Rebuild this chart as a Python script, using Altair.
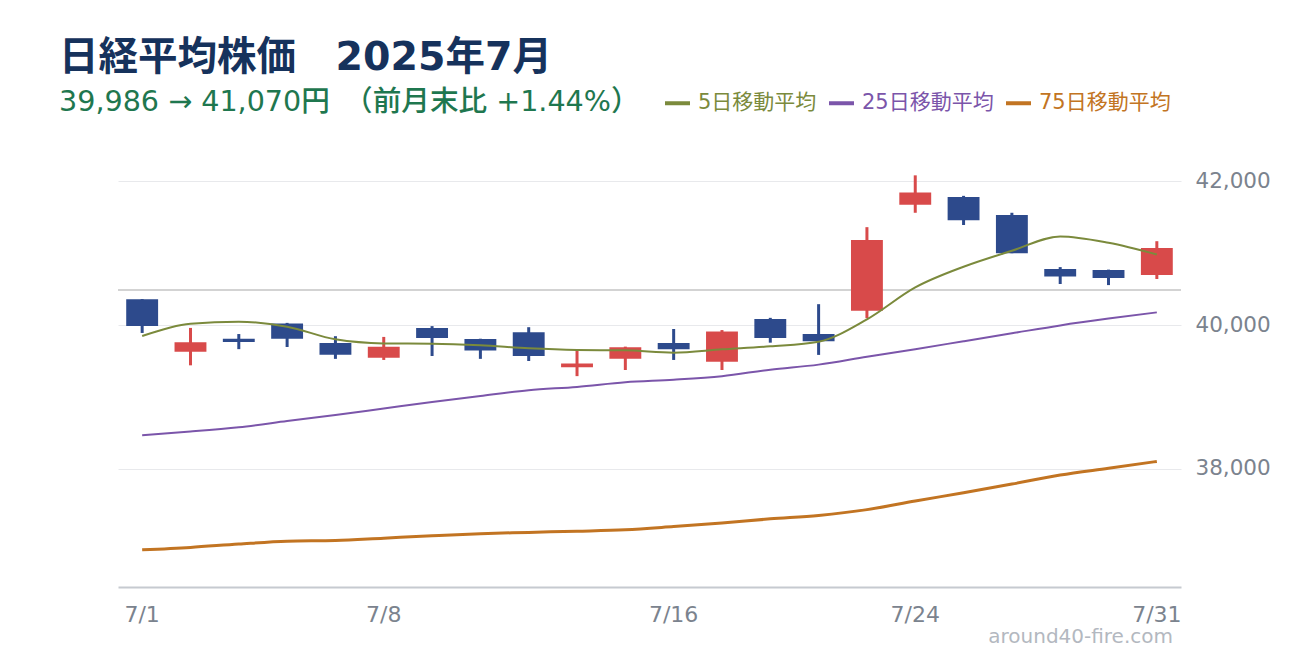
import altair as alt
import pandas as pd

# ---- data ----
dates = ["7/1", "7/2", "7/3", "7/4", "7/7", "7/8", "7/9", "7/10", "7/11", "7/14", "7/15",
         "7/16", "7/17", "7/18", "7/22", "7/23", "7/24", "7/25", "7/28", "7/29", "7/30", "7/31"]
opens = [40360, 39630, 39810, 40020, 39750, 39545, 39960, 39805, 39900, 39415, 39530,
         39750, 39490, 40085, 39875, 40200, 41670, 41780, 41530, 40780, 40765, 40695]
highs = [40360, 39960, 39875, 40030, 39845, 39835, 39985, 39810, 39970, 39640, 39700,
         39945, 39930, 40100, 40290, 41360, 42080, 41795, 41560, 40805, 40770, 41165]
lows = [39890, 39440, 39665, 39695, 39530, 39515, 39570, 39530, 39500, 39290, 39375,
        39515, 39375, 39755, 39585, 40095, 41560, 41390, 40998, 40570, 40555, 40640]
closes = [39986, 39762, 39765, 39810, 39587, 39700, 39821, 39646, 39569, 39465, 39690,
          39665, 39910, 39819, 39774, 41180, 41840, 41456, 40998, 40674, 40654, 41070]
ma5 = [39847, 40018, 40046, 39977, 39801, 39745, 39741, 39718, 39676, 39653, 39648,
       39616, 39662, 39704, 39769, 40079, 40523, 40810, 41032, 41232, 41144, 40981]
ma25 = [38470, 38520, 38580, 38665, 38750, 38840, 38930, 39015, 39095, 39140, 39205,
        39240, 39290, 39380, 39450, 39560, 39665, 39775, 39885, 39995, 40090, 40176]
ma75 = [36876, 36910, 36957, 36996, 37006, 37039, 37072, 37101, 37119, 37135, 37155,
        37200, 37250, 37307, 37355, 37435, 37555, 37670, 37790, 37915, 38010, 38105]

x_labels = ["7/1", "7/8", "7/16", "7/24", "7/31"]
y_ticks = [38000, 40000, 42000]
prev_close = [40487]
ma_names = ["5日移動平均", "25日移動平均", "75日移動平均"]
ma_colors = ["#7b8a3c", "#7b55aa", "#c27422"]

title_text = "日経平均株価　2025年7月"
subtitle_text = "39,986 → 41,070円　（前月末比 +1.44%）"
watermark = "around40-fire.com"

# ---- styles ----
FONT = "DejaVu Sans, 'Noto Sans CJK JP', sans-serif"
RED = "#d84a4a"
BLUE = "#2d4a8c"
NAVY = "#16325c"
GREEN = "#1f774f"
LABEL = "#7b838e"

df = pd.DataFrame({
    "i": list(range(len(dates))), "d": dates, "open": opens, "high": highs,
    "low": lows, "close": closes,
})

ma_rows = []
for name, series in zip(ma_names, [ma5, ma25, ma75]):
    for i, (d, v) in enumerate(zip(dates, series)):
        ma_rows.append({"i": i, "d": d, "s": name, "v": v})
ma_df = pd.DataFrame(ma_rows)

x_enc = alt.X("d:N", sort=dates, title=None,
              scale=alt.Scale(paddingInner=0, paddingOuter=0),
              axis=alt.Axis(values=x_labels, labelAngle=0, ticks=False, grid=False,
                            domainColor="#c6cad0", domainWidth=2,
                            labelColor=LABEL, labelFont=FONT, labelFontSize=22,
                            labelPadding=17))

y_scale = alt.Scale(domain=[36360, 42460], zero=False, nice=False)
y_axis = alt.Axis(orient="right", values=y_ticks, format=",", ticks=False, domain=False,
                  labelExpr="format(datum.value, ',')",
                  grid=True, gridColor="#e8e9ec", gridWidth=1,
                  labelColor=LABEL, labelFont=FONT, labelFontSize=21.5, labelPadding=14)


def Y(field):
    return alt.Y(field, title=None, scale=y_scale, axis=y_axis)


base = alt.Chart(df)
candle_color = alt.condition("datum.close >= datum.open", alt.value(RED), alt.value(BLUE))

ref = alt.Chart(pd.DataFrame({"p": prev_close})).mark_rule(
    color="#c4c4c4", strokeWidth=1.5
).encode(y=Y("p:Q"))

wick = base.mark_rule(strokeWidth=3).encode(
    x=x_enc, y=Y("low:Q"), y2="high:Q", color=candle_color
)
body = base.mark_bar(width=alt.RelativeBandSize(0.66)).encode(
    x=x_enc, y=Y("open:Q"), y2="close:Q", color=candle_color
)

legend = alt.Legend(
    orient="none", legendX=545, legendY=-59.5, direction="horizontal", title=None,
    symbolType="stroke", symbolSize=625, symbolStrokeWidth=4,
    labelFont=FONT, labelFontSize=21, labelOffset=6, columnPadding=4, padding=0,
    labelLimit=400,
    labelColor=alt.ExprRef(expr=(
        f"datum.label == '{ma_names[0]}' ? '{ma_colors[0]}' : "
        f"datum.label == '{ma_names[1]}' ? '{ma_colors[1]}' : '{ma_colors[2]}'"
    )),
)
color_enc = alt.Color("s:N", sort=ma_names,
                      scale=alt.Scale(domain=ma_names, range=ma_colors), legend=legend)


def ma_line(name, width):
    return alt.Chart(ma_df).transform_filter(
        alt.FieldEqualPredicate(field="s", equal=name)
    ).mark_line(strokeWidth=width, interpolate="monotone").encode(
        x=x_enc, y=Y("v:Q"), order=alt.Order("i:Q"), color=color_enc,
    )


l5 = ma_line(ma_names[0], 2)
l25 = ma_line(ma_names[1], 2)
l75 = ma_line(ma_names[2], 3)

mark = alt.Chart(pd.DataFrame({"t": [watermark]})).mark_text(
    align="right", baseline="middle", font=FONT, fontSize=20, color="#b3b8c0"
).encode(x=alt.value(1055), y=alt.value(489), text="t:N")

chart = alt.layer(ref, wick, body, l5, l25, l75, mark).properties(
    width=1063, height=439,
    title=alt.Title(
        text=title_text, subtitle=subtitle_text, anchor="start", frame="group",
        dx=-59, offset=-29, font=FONT, fontSize=39.5, fontWeight="bold", color=NAVY,
        subtitleFont=FONT, subtitleFontSize=28.6, subtitleFontWeight=500,
        subtitleColor=GREEN, subtitlePadding=9,
    ),
    autosize=alt.AutoSizeParams(type="none"),
    padding={"left": 110, "top": 140, "right": 111, "bottom": 60},
    background="white",
).configure_view(stroke=None)

chart.save("out.html", embed_options={"renderer": "svg", "actions": False})
